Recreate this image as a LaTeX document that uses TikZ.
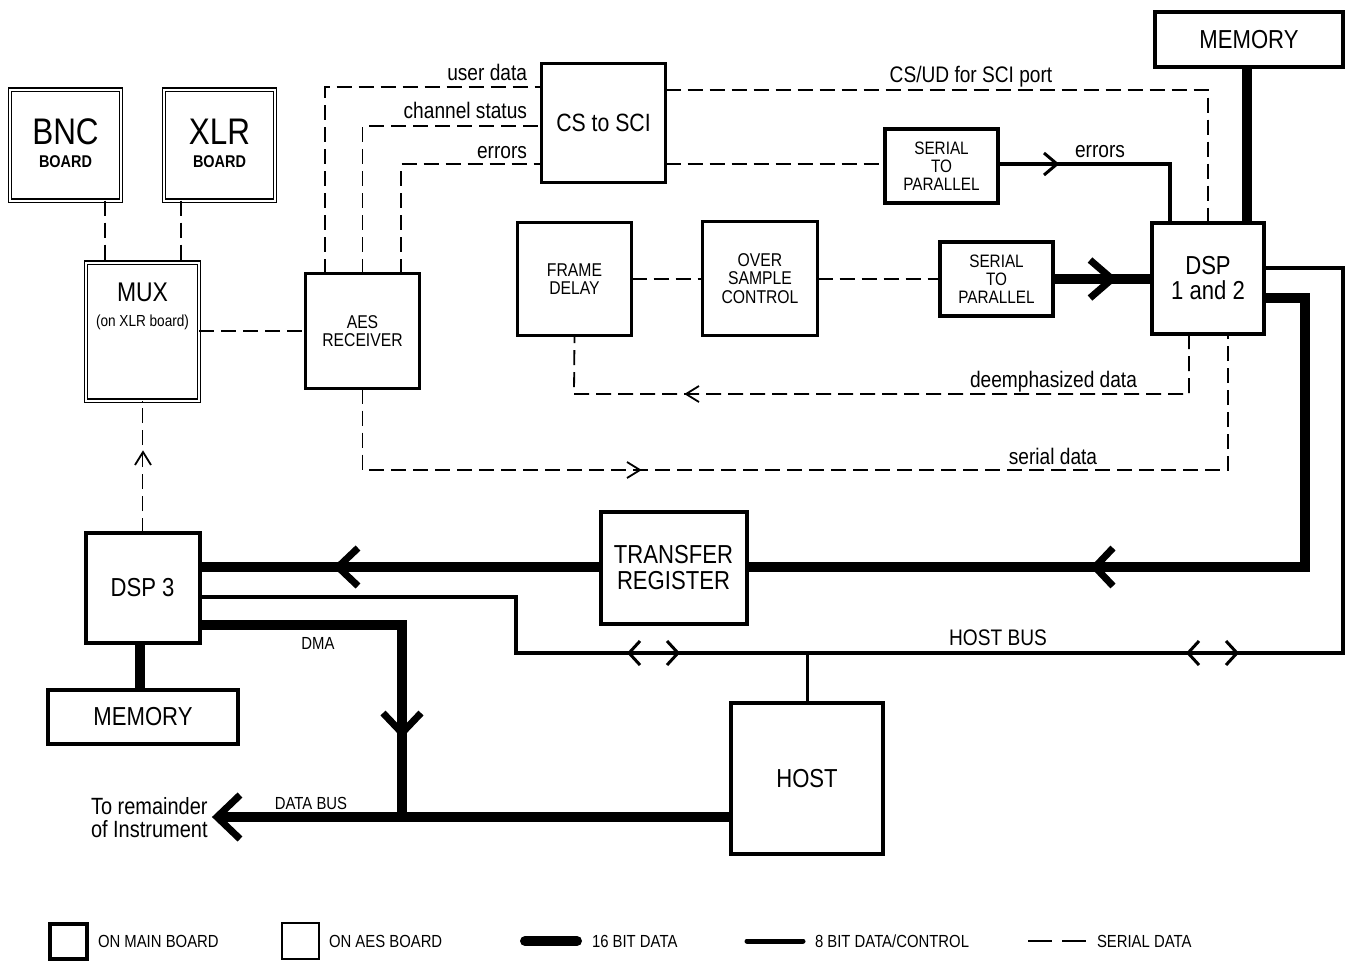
\documentclass[tikz,border=0pt]{standalone}
\usepackage{fontspec}
\setmainfont{Liberation Sans}[FakeStretch=0.85]
\usetikzlibrary{calc}
\newcommand\fsz[1]{\fontsize{#1}{#1}\selectfont}
\newcommand\fszs[2]{\fontsize{#1}{#2}\selectfont}
\tikzset{
  every node/.style={inner sep=0pt, outer sep=0pt, align=center},
  mainbox/.style={draw, line width=4pt},
  aesbox/.style={draw, line width=2.3pt},
  dblbox/.style={draw, double, line width=1.2pt, double distance=2pt},
  bussixteen/.style={line width=10pt},
  buseight/.style={line width=4pt},
  busthin/.style={line width=3pt},
  ser/.style={line width=1.8pt, dash pattern=on 15pt off 7pt},
  chevbig/.style={line width=7pt},
  chevthin/.style={line width=3pt},
  chevser/.style={line width=1.8pt},
  lbl/.style={font=\fsz{22.5}},
  lgd/.style={font=\fsz{17.5}, anchor=west},
}
\newcommand\chv[6]{\draw[#1, shift={(#2,#3)}, rotate=#4, xscale=#5, yscale=#6] (-1,1) -- (0,0) -- (-1,-1);}
\begin{document}
\begin{tikzpicture}[x=1pt,y=-1pt, line join=miter]
\useasboundingbox (0,0) rectangle (1351,962);

% ---------- boxes ----------
\node[dblbox, minimum width=111pt, minimum height=111pt] (bnc) at (65.5,145) {};
\node[font=\fsz{37}] (bnct) at (65.5,132) {BNC};
\node[font=\fsz{17}\bfseries] (bncb) at (65.5,162) {BOARD};
\node[dblbox, minimum width=111pt, minimum height=111pt] (xlr) at (219.5,145) {};
\node[font=\fsz{37}] (xlrt) at (219.5,132) {XLR};
\node[font=\fsz{17}\bfseries] (xlrb) at (219.5,162) {BOARD};
\node[dblbox, minimum width=113pt, minimum height=138pt] (mux) at (142.5,331.5) {};
\node[font=\fsz{27}] (muxt) at (142.5,292) {MUX};
\node[font=\fsz{16}] (muxs) at (142.5,322) {(on XLR board)};

\node[aesbox, minimum width=114pt, minimum height=115pt, font=\fsz{18.5}] (aes) at (362.5,331) {AES\\RECEIVER};
\node[aesbox, minimum width=124pt, minimum height=119pt, font=\fsz{25}] (cs) at (603.5,123) {CS to SCI};
\node[aesbox, minimum width=114pt, minimum height=113pt, font=\fsz{18.5}] (frame) at (574.5,279) {FRAME\\DELAY};
\node[aesbox, minimum width=115pt, minimum height=114pt, font=\fsz{18.5}] (over) at (760,278.5) {OVER\\SAMPLE\\CONTROL};

\node[mainbox, minimum width=113pt, minimum height=74pt, font=\fsz{18}] (stpa) at (941.5,166) {SERIAL\\TO\\PARALLEL};
\node[mainbox, minimum width=113pt, minimum height=74pt, font=\fsz{18}] (stpb) at (996.5,279) {SERIAL\\TO\\PARALLEL};
\node[mainbox, minimum width=188pt, minimum height=55pt, font=\fsz{26}] (mem1) at (1249,39.5) {MEMORY};
\node[mainbox, minimum width=112pt, minimum height=111pt, font=\fszs{26}{25}] (dsp) at (1208,278.5) {DSP\\1 and 2};
\node[mainbox, minimum width=146pt, minimum height=112pt, font=\fszs{26}{26}] (tr) at (673.5,568) {TRANSFER\\REGISTER};
\node[mainbox, minimum width=114pt, minimum height=110pt, font=\fsz{26}] (dsp3) at (142.5,588) {DSP 3};
\node[mainbox, minimum width=190pt, minimum height=54pt, font=\fsz{26}] (mem2) at (143,717) {MEMORY};
\node[mainbox, minimum width=152pt, minimum height=151pt, font=\fsz{26}] (host) at (807,778.5) {HOST};

% ---------- labels ----------
\node[lbl, anchor=base east] (lud) at (527,80) {user data};
\node[lbl, anchor=base east] (lcs) at (527,118) {channel status};
\node[lbl, anchor=base east] (ler) at (527,158) {errors};
\node[lbl, anchor=base] (lcsud) at (971,82) {CS/UD for SCI port};
\node[lbl, anchor=base] (ler2) at (1100,157) {errors};
\node[lbl, anchor=base] (lde) at (1053.5,387) {deemphasized data};
\node[lbl, anchor=base] (lsd) at (1053,464) {serial data};
\node[lbl, anchor=base] (lhb) at (998,645) {HOST BUS};
\node[font=\fsz{17.5}, anchor=base] (ldma) at (318,649) {DMA};
\node[font=\fsz{17.5}, anchor=base] (ldb) at (311,809) {DATA BUS};
\node[font=\fsz{23.5}, anchor=base west] (rem1) at (91,814) {To remainder};
\node[font=\fsz{23.5}, anchor=base west] (rem2) at (91,837) {of Instrument};
\coordinate (dbtip) at (217,817);

% ---------- serial (dashed) connectors ----------
\draw[ser] (bnc.south -| 105,0) -- (mux.north -| 105,0);
\draw[ser] (xlr.south -| 181,0) -- (mux.north -| 181,0);
\draw[ser] (mux.east |- 0,331) -- (aes.west |- 0,331);
\draw[ser] (aes.north -| 325,0) |- (cs.west |- 0,87);
\draw[ser] (aes.north) |- (cs.west |- 0,126);
\draw[ser] (aes.north -| 401,0) |- (cs.west |- 0,164);
\draw[ser] (cs.east |- 0,90) -| (dsp.north -| 1208,0);
\draw[ser] (cs.east |- 0,164) -- (stpa.west |- 0,164);
\draw[ser] (frame.east |- 0,279) -- (over.west |- 0,279);
\draw[ser] (over.east |- 0,279) -- (stpb.west |- 0,279);
\draw[ser] (dsp.south -| 1189,0) |- (574,394) -- (frame.south);
\draw[ser] (aes.south) |- (1228,470) -- (dsp.south -| 1228,0);
\draw[ser] (dsp3.north) -- (mux.south);
\chv{chevser}{143}{452}{90}{13}{8}
\chv{chevser}{640}{470}{0}{13}{8}
\chv{chevser}{686}{394}{180}{13}{8}

% ---------- 8 bit ----------
\draw[buseight] (stpa.east |- 0,164) -| (dsp.north -| 1170,0);
\chv{chevthin}{1057}{164}{0}{13}{11}
\draw[buseight] (dsp.east |- 0,268) -| (1343,653) -| (516,597) -- (dsp3.east |- 0,597);
\draw[busthin] (host.north) -- (host.north |- 0,653);
\chv{chevthin}{629}{653}{180}{11}{12}
\chv{chevthin}{678}{653}{0}{11}{12}
\chv{chevthin}{1188}{653}{180}{11}{12}
\chv{chevthin}{1237}{653}{0}{11}{12}

% ---------- 16 bit ----------
\draw[bussixteen] (mem1.south -| 1247,0) -- (dsp.north -| 1247,0);
\draw[bussixteen] (stpb.east |- 0,279) -- (dsp.west |- 0,279);
\chv{chevbig}{1112}{279}{0}{22}{19}
\draw[bussixteen] (dsp.east |- 0,298) -| (1305,567) -- (tr.east |- 0,567);
\chv{chevbig}{1095}{567}{180}{18}{19}
\draw[bussixteen] (tr.west |- 0,567) -- (dsp3.east |- 0,567);
\chv{chevbig}{338}{567}{180}{20}{19}
\draw[bussixteen] (dsp3.east |- 0,625) -| (402,817);
\chv{chevbig}{402}{733}{-90}{20}{19}
\draw[bussixteen] (host.west |- 0,817) -- (dbtip);
\chv{chevbig}{217}{817}{180}{23}{22}
\draw[bussixteen] (dsp3.south -| 140,0) -- (mem2.north -| 140,0);

% ---------- legend ----------
\node[mainbox, minimum width=37pt, minimum height=35pt] (lgm) at (68.5,941) {};
\node[lgd] (lgmt) at (98,941) {ON MAIN BOARD};
\node[draw, line width=2pt, minimum width=37pt, minimum height=36pt] (lga) at (300.5,941) {};
\node[lgd] (lgat) at (329,941) {ON AES BOARD};
\coordinate (l16a) at (525,941); \coordinate (l16b) at (577,941);
\draw[bussixteen, line cap=round] (l16a) -- (l16b);
\node[lgd] (l16t) at (592,941) {16 BIT DATA};
\coordinate (l8a) at (747,941); \coordinate (l8b) at (803,941);
\draw[line width=5pt, line cap=round] (l8a) -- (l8b);
\node[lgd] (l8t) at (815,941) {8 BIT DATA/CONTROL};
\coordinate (lsa) at (1028,941); \coordinate (lsb) at (1086,941);
\draw[line width=2pt, dash pattern=on 24pt off 10pt] (lsa) -- (lsb);
\node[lgd] (lst) at (1097,941) {SERIAL DATA};
\end{tikzpicture}
\end{document}
